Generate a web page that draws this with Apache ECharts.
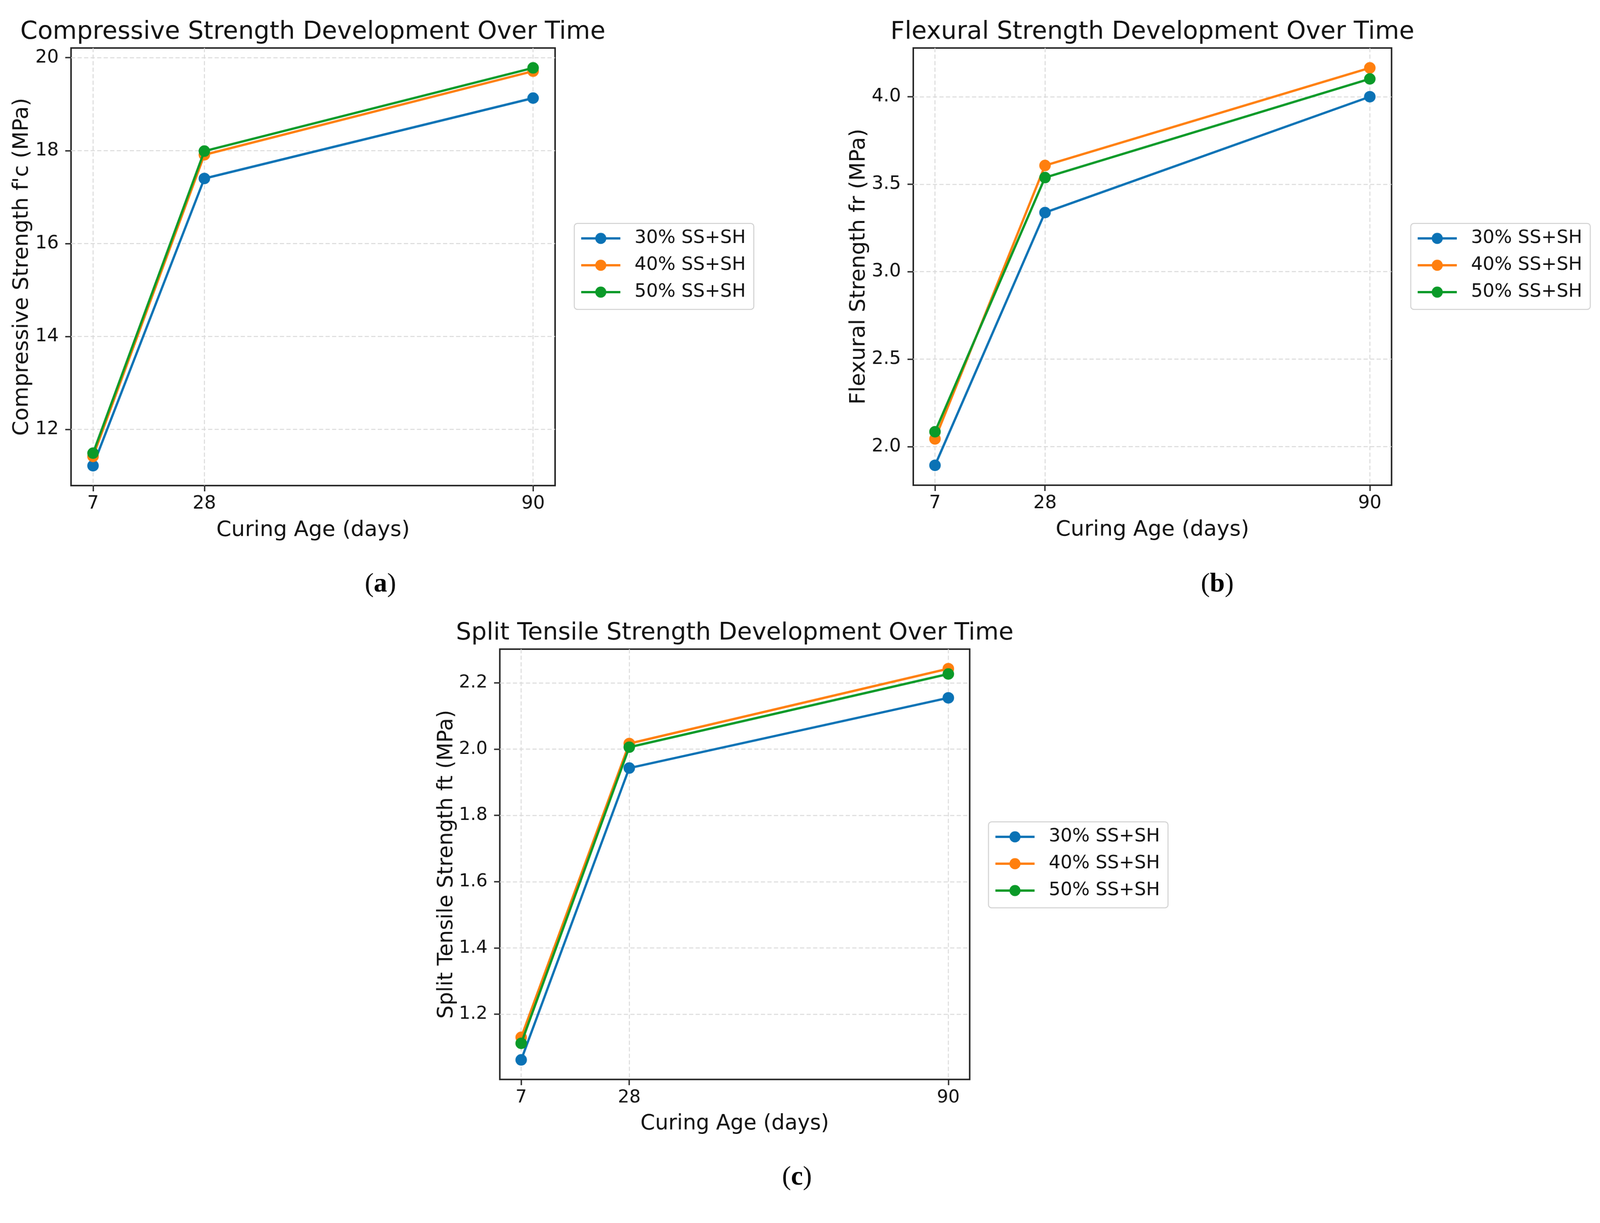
<!DOCTYPE html>
<html>
<head>
<meta charset="utf-8">
<script src="https://cdn.jsdelivr.net/npm/echarts@6/dist/echarts.min.js"></script>
<style>
html,body{margin:0;padding:0;background:#fff;overflow:hidden;}
#chart{width:4168px;height:3131px;transform-origin:0 0;}
</style>
</head>
<body>
<div id="chart"></div>
<script>
// ---- data ----
const days = [7, 28, 90];
const seriesNames = ['30% SS+SH', '40% SS+SH', '50% SS+SH'];
const dayTicks = [7, 28, 90];

const compressive30 = [11.22, 17.40, 19.13];
const compressive40 = [11.42, 17.91, 19.71];
const compressive50 = [11.49, 17.99, 19.78];
const compressiveTicks = [12, 14, 16, 18, 20];

const flexural30 = [1.893, 3.338, 4.000];
const flexural40 = [2.044, 3.607, 4.165];
const flexural50 = [2.085, 3.538, 4.102];
const flexuralTicks = [2.0, 2.5, 3.0, 3.5, 4.0];

const tensile30 = [1.062, 1.943, 2.155];
const tensile40 = [1.130, 2.017, 2.243];
const tensile50 = [1.112, 2.006, 2.227];
const tensileTicks = [1.2, 1.4, 1.6, 1.8, 2.0, 2.2];

const titles = [
  'Compressive Strength Development Over Time',
  'Flexural Strength Development Over Time',
  'Split Tensile Strength Development Over Time'
];
const yNames = ['Compressive Strength f\'c (MPa)', 'Flexural Strength fr (MPa)', 'Split Tensile Strength ft (MPa)'];
const xName = 'Curing Age (days)';
const panelLabels = ['a', 'b', 'c'];

// ---- styling ----
const colors = ['#0a72b5', '#ff7f0e', '#0a9a28'];
const FONT = 'DejaVu Sans';
const INK = '#262626';

// fit the 4168x3131 design into the actual CSS viewport
const el = document.getElementById('chart');
const S = Math.min(window.innerWidth / 4168, window.innerHeight / 3131);
el.style.transform = 'scale(' + S + ')';

function pad(vals) { // matplotlib-like 5% autoscale margin
  const lo = Math.min(...vals), hi = Math.max(...vals), m = (hi - lo) * 0.05;
  return [lo - m, hi + m];
}

const panels = [
  {grid: {left: 185, top: 125, width: 1261, height: 1140}, data: [compressive30, compressive40, compressive50], fs: 1,
   ticks: compressiveTicks, step: 2, dec: 0, nameGap: 100, legend: {left: 1496, top: 582}, title: {x: 815, y: 84}, label: {x: 991, y: 1523}},
  {grid: {left: 2379, top: 125, width: 1246, height: 1139}, data: [flexural30, flexural40, flexural50], fs: 1,
   ticks: flexuralTicks, step: 0.5, dec: 1, nameGap: 114, legend: {left: 3675, top: 582}, title: {x: 3002, y: 84}, label: {x: 3171, y: 1523}},
  {grid: {left: 1302, top: 1691, width: 1224, height: 1121}, data: [tensile30, tensile40, tensile50], fs: 0.975,
   ticks: tensileTicks, step: 0.2, dec: 1, nameGap: 110, legend: {left: 2575, top: 2141}, title: {x: 1914, y: 1650}, label: {x: 2076, y: 3068}}
];

const xr = pad(days);
const option = {
  backgroundColor: '#fff',
  animation: false,
  grid: [], xAxis: [], yAxis: [], series: [], legend: [], graphic: []
};

panels.forEach((p, i) => {
  const f = p.fs;
  option.grid.push(Object.assign({show: true, borderColor: INK, borderWidth: 4, backgroundColor: '#fff'}, p.grid));
  const yr = pad([].concat(...p.data));
  option.xAxis.push({
    type: 'value', gridIndex: i, min: xr[0], max: xr[1],
    name: xName, nameLocation: 'middle', nameGap: 88,
    nameTextStyle: {fontFamily: FONT, fontSize: 56 * f, color: '#111'},
    axisLine: {show: false},
    axisTick: {show: true, length: 15, lineStyle: {color: INK, width: 3.5}, customValues: dayTicks},
    axisLabel: {fontFamily: FONT, fontSize: 48 * f, color: '#111', margin: 24, customValues: dayTicks},
    splitLine: {show: true, lineStyle: {color: '#dadada', width: 2.5, type: [11, 6]}}
  });
  option.yAxis.push({
    type: 'value', gridIndex: i, min: yr[0], max: yr[1],
    minInterval: p.step, maxInterval: p.step,
    name: yNames[i], nameLocation: 'middle', nameGap: p.nameGap, nameRotate: 90,
    nameTextStyle: {fontFamily: FONT, fontSize: 56 * f, color: '#111'},
    axisLine: {show: false},
    axisTick: {show: true, length: 15, lineStyle: {color: INK, width: 3.5}, customValues: p.ticks},
    axisLabel: {fontFamily: FONT, fontSize: 48 * f, color: '#111', margin: 32, customValues: p.ticks,
                formatter: v => Number(v).toFixed(p.dec)},
    splitLine: {show: true, lineStyle: {color: '#dadada', width: 2.5, type: [11, 6]}}
  });
  p.data.forEach((vals, k) => {
    option.series.push({
      type: 'line', name: seriesNames[k], xAxisIndex: i, yAxisIndex: i,
      data: days.map((d, j) => [d, vals[j]]),
      symbol: 'circle', symbolSize: 30, showAllSymbol: true,
      lineStyle: {width: 6, color: colors[k]},
      itemStyle: {color: colors[k], borderWidth: 0},
      emphasis: {disabled: true}, z: 2 + k
    });
  });
  option.legend.push({
    left: p.legend.left, top: p.legend.top, orient: 'vertical',
    data: seriesNames,
    itemWidth: 102, itemHeight: 36, itemGap: 22,
    padding: [15, 21, 21, 15],
    borderColor: '#d0d0d0', borderWidth: 2.5, borderRadius: 8, backgroundColor: '#fff',
    textStyle: {fontFamily: FONT, fontSize: 48, color: '#111', lineHeight: 48, padding: [0, 0, 0, 32]},
    lineStyle: {width: 6}, selectedMode: false
  });
  option.graphic.push({
    type: 'text', x: p.title.x, y: p.title.y,
    style: {text: titles[i], font: (64.5 * f) + 'px "DejaVu Sans"', fill: '#111', align: 'center', verticalAlign: 'middle'}
  });
  option.graphic.push({
    type: 'text', x: p.label.x, y: p.label.y,
    style: {
      text: '{p|(}{b|' + panelLabels[i] + '}{p|)}', align: 'center', verticalAlign: 'middle',
      rich: {
        p: {fontFamily: 'Liberation Serif', fontSize: 70, fill: '#000', color: '#000'},
        b: {fontFamily: 'Liberation Serif', fontSize: 70, fontWeight: 'bold', fill: '#000', color: '#000'}
      }
    }
  });
});

const chart = echarts.init(el, null, {renderer: 'canvas', width: 4168, height: 3131});
chart.setOption(option);
</script>
</body>
</html>
